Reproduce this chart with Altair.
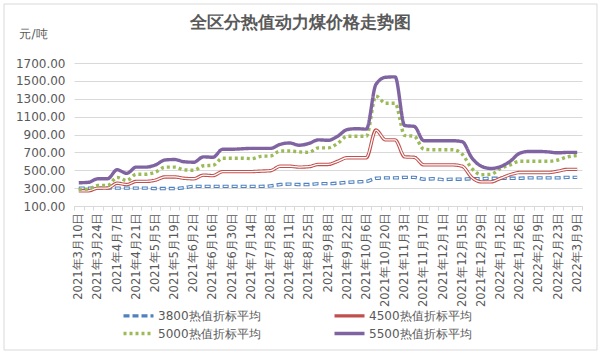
import json
import altair as alt
import pandas as pd

dates = [
    "2021年3月10日", "2021年3月17日", "2021年3月24日", "2021年3月31日", "2021年4月7日",
    "2021年4月14日", "2021年4月21日", "2021年4月28日", "2021年5月5日", "2021年5月12日",
    "2021年5月19日", "2021年5月26日", "2021年6月2日", "2021年6月9日", "2021年6月16日",
    "2021年6月23日", "2021年6月30日", "2021年7月7日", "2021年7月14日", "2021年7月21日",
    "2021年7月28日", "2021年8月4日", "2021年8月11日", "2021年8月18日", "2021年8月25日",
    "2021年9月1日", "2021年9月8日", "2021年9月15日", "2021年9月22日", "2021年9月29日",
    "2021年10月6日", "2021年10月13日", "2021年10月20日", "2021年10月27日", "2021年11月3日",
    "2021年11月10日", "2021年11月17日", "2021年11月24日", "2021年12月1日", "2021年12月8日",
    "2021年12月15日", "2021年12月22日", "2021年12月29日", "2022年1月5日", "2022年1月12日",
    "2022年1月19日", "2022年1月26日", "2022年2月2日", "2022年2月9日", "2022年2月16日",
    "2022年2月23日", "2022年3月2日", "2022年3月9日",
]

s3800 = [300, 300, 300, 300, 300, 300, 300, 300, 295, 295,
         295, 305, 320, 320, 320, 320, 320, 320, 320, 320,
         325, 340, 345, 340, 340, 350, 350, 355, 365, 370,
         375, 410, 415, 415, 420, 420, 400, 405, 395, 400,
         400, 405, 405, 410, 410, 410, 410, 415, 415, 415,
         415, 420, 420]
s4500 = [270, 270, 300, 300, 355, 340, 375, 375, 390, 425,
         425, 410, 405, 445, 440, 485, 485, 485, 485, 490,
         495, 545, 545, 535, 540, 565, 565, 600, 640, 640,
         640, 950, 840, 840, 650, 645, 560, 560, 560, 560,
         545, 420, 370, 370, 410, 450, 475, 475, 475, 475,
         490, 510, 510]
s5000 = [285, 290, 330, 330, 420, 385, 455, 455, 480, 535,
         535, 505, 500, 550, 555, 635, 635, 635, 630, 655,
         660, 715, 715, 705, 700, 750, 750, 800, 880, 880,
         880, 1330, 1250, 1250, 890, 880, 735, 730, 730, 730,
         680, 520, 450, 455, 520, 560, 600, 600, 600, 600,
         615, 650, 665]
s5500 = [360, 365, 405, 405, 505, 465, 535, 535, 560, 615,
         620, 595, 590, 650, 645, 735, 735, 740, 745, 745,
         745, 790, 805, 780, 800, 840, 835, 880, 955, 965,
         960, 1460, 1540, 1545, 1000, 990, 830, 830, 830, 830,
         820, 640, 545, 520, 540, 600, 690, 710, 710, 705,
         695, 700, 700]

series_names = ["3800热值折标平均", "4500热值折标平均", "5000热值折标平均", "5500热值折标平均"]
series_colors = ["#4f81bd", "#c0504d", "#9bbb59", "#8064a2"]
y_ticks = [100, 300, 500, 700, 900, 1100, 1300, 1500, 1700]

rows = []
for name, vals in zip(series_names, [s3800, s4500, s5000, s5500]):
    for d, v in zip(dates, vals):
        rows.append({"date": d, "series": name, "value": v})
df = pd.DataFrame(rows)

shown = dates[::2]
label_expr = ("indexof(" + json.dumps(shown, ensure_ascii=False) +
              ", datum.value) >= 0 ? datum.label : ''")

GRAY = "#595959"
LIGHT = "#d9d9d9"

x_enc = alt.X(
    "date:N", sort=dates, title=None,
    scale=alt.Scale(type="band", paddingInner=0, paddingOuter=0),
    axis=alt.Axis(labelAngle=270, labelExpr=label_expr, labelOverlap=False,
                  tickBand="extent", tickSize=4, tickColor=LIGHT, domainColor=LIGHT,
                  labelColor=GRAY, labelFontSize=11.5, labelPadding=2, grid=False,
                  labelLimit=200),
)
y_enc = alt.Y(
    "value:Q", scale=alt.Scale(domain=[100, 1700], nice=False, zero=False),
    axis=alt.Axis(values=y_ticks, format=".2f", title="元/吨", titleAngle=0,
                  titleX=-41, titleY=-30, titleAlign="center", titleBaseline="middle",
                  titleFontSize=12, titleFontWeight="normal", titleColor=GRAY,
                  labelColor=GRAY, labelFontSize=12, labelPadding=9,
                  domain=False, ticks=False, grid=True, gridColor=LIGHT),
)

# symbol path spans 4 units of radius sqrt(size)/2 -> 30 px long line with a 15 px entry height
legend = alt.Legend(title=None, orient="none", legendX=55, legendY=243, columns=2,
                    direction="horizontal",
                    symbolType="M-2,0H2", symbolSize=225, labelFontSize=12,
                    labelColor=GRAY, columnPadding=66, rowPadding=1, labelOffset=10,
                    labelLimit=0)
color_enc = alt.Color("series:N", scale=alt.Scale(domain=series_names, range=series_colors),
                      legend=legend)
dash_enc = alt.StrokeDash("series:N",
                          scale=alt.Scale(domain=series_names,
                                          range=[[6, 3], [1, 0], [3, 3], [1, 0]]),
                          legend=legend)
width_enc = alt.StrokeWidth("series:N",
                            scale=alt.Scale(domain=series_names, range=[3.4, 3.4, 2.8, 3.8]),
                            legend=legend)

base = alt.Chart(df)


def main_line(name):
    return base.transform_filter(alt.datum.series == name).mark_line(
        interpolate="monotone").encode(x=x_enc, y=y_enc, color=color_enc,
                                       strokeDash=dash_enc, strokeWidth=width_enc)


def inner_line(name, **kw):
    return base.transform_filter(alt.datum.series == name).mark_line(
        interpolate="monotone", color="white", **kw).encode(x=x_enc, y=y_enc)


border = alt.Chart(alt.Data(values=[{}])).mark_rect(
    fill="transparent", stroke=LIGHT, strokeWidth=1).encode(
    x=alt.value(-70), x2=alt.value(523), y=alt.value(-59), y2=alt.value(287))

chart = alt.layer(
    border,
    main_line(series_names[0]),
    inner_line(series_names[0], strokeWidth=1.3, strokeDash=[4, 5], strokeDashOffset=8),
    main_line(series_names[1]),
    inner_line(series_names[1], strokeWidth=1.3),
    main_line(series_names[2]),
    main_line(series_names[3]),
).properties(
    width=508, height=143,
    autosize=alt.AutoSizeParams(type="none"),
    padding={"left": 74, "top": 63, "right": 18, "bottom": 148},
    title=alt.TitleParams("全区分热值动力煤价格走势图", fontSize=17, fontWeight="bold",
                          color=GRAY, anchor="middle", frame="group", dx=-28, offset=-28),
).configure(font="DejaVu Sans").configure_view(stroke=None)

chart.save("out.html", embed_options={"renderer": "svg", "actions": False})
